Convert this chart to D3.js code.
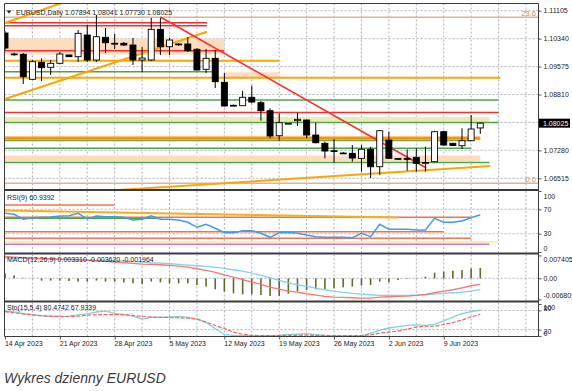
<!DOCTYPE html>
<html>
<head>
<meta charset="utf-8">
<script src="https://d3js.org/d3.v7.min.js"></script>
<style>
body { margin: 0; background: #fff; }
svg { display: block; }
text { font-family: "Liberation Sans", Arial, sans-serif; }
</style>
</head>
<body>
<svg id="chart" width="572" height="391"></svg>
<script>
// ---- data (one bar per day, Sunday bars included) ----
var dateTicks = [0, 6, 12, 18, 24, 30, 36, 42, 48];
var dateLabels = ["14 Apr 2023", "21 Apr 2023", "28 Apr 2023", "5 May 2023", "12 May 2023",
	"19 May 2023", "26 May 2023", "2 Jun 2023", "9 Jun 2023"];

var opens = [1.10494, 1.09919, 1.09911, 1.09226, 1.09692, 1.09555, 1.09664, 1.09892, 1.09845, 1.10439,
	1.09755, 1.10376, 1.10212, 1.10212, 1.10165, 1.09755, 1.09755, 1.10595, 1.10119, 1.10193,
	1.10193, 1.10048, 1.09500, 1.09801, 1.09144, 1.08514, 1.08503, 1.08733, 1.08585, 1.08366,
	1.07681, 1.08021, 1.08092, 1.08111, 1.07700, 1.07473, 1.07270, 1.07207, 1.07199, 1.07062,
	1.07309, 1.06832, 1.07563, 1.07057, 1.07057, 1.07090, 1.06933, 1.06969, 1.07791, 1.07473,
	1.07407, 1.07544, 1.07894];
var highs = [1.10549, 1.09955, 1.09946, 1.09755, 1.09801, 1.09755, 1.09974, 1.09905, 1.10576, 1.10713,
	1.10987, 1.10631, 1.10467, 1.10248, 1.10357, 1.10111, 1.10905, 1.10905, 1.10357, 1.10220,
	1.10385, 1.10083, 1.10056, 1.10028, 1.09399, 1.08536, 1.08914, 1.09051, 1.08632, 1.08432,
	1.08295, 1.08029, 1.08311, 1.08125, 1.08037, 1.07517, 1.07591, 1.07235, 1.07426, 1.07426,
	1.07380, 1.07837, 1.07791, 1.07070, 1.07309, 1.07336, 1.07380, 1.07818, 1.07818, 1.07481,
	1.07884, 1.08248, 1.08041];
var lows = [1.10028, 1.09872, 1.09097, 1.09207, 1.09179, 1.09344, 1.09645, 1.09837, 1.09700, 1.09700,
	1.09700, 1.09946, 1.10056, 1.10138, 1.09618, 1.09426, 1.09727, 1.09892, 1.09892, 1.10138,
	1.09974, 1.09467, 1.09399, 1.08988, 1.08481, 1.08495, 1.08495, 1.08569, 1.08092, 1.07610,
	1.07544, 1.08002, 1.07947, 1.07610, 1.07473, 1.07062, 1.06942, 1.07180, 1.06969, 1.06695,
	1.06523, 1.06605, 1.07043, 1.07029, 1.06723, 1.06695, 1.06695, 1.06953, 1.07407, 1.07399,
	1.07317, 1.07536, 1.07730];
var closes = [1.10083, 1.09911, 1.09297, 1.09708, 1.09544, 1.09664, 1.09919, 1.09845, 1.10486, 1.09755,
	1.10393, 1.10228, 1.10207, 1.10165, 1.09755, 1.09809, 1.10595, 1.10119, 1.10302, 1.10179,
	1.10009, 1.09481, 1.09801, 1.09160, 1.08495, 1.08506, 1.08733, 1.08604, 1.08366, 1.07673,
	1.08037, 1.08013, 1.08130, 1.07700, 1.07489, 1.07262, 1.07254, 1.07194, 1.07070, 1.07309,
	1.06832, 1.07818, 1.07062, 1.07043, 1.07048, 1.06925, 1.06947, 1.07791, 1.07426, 1.07413,
	1.07544, 1.07865, 1.08025];

var priceTicks = [1.11105, 1.10340, 1.09575, 1.08810, 1.07280, 1.06515];
var priceGrid = [1.11105, 1.10340, 1.09575, 1.08810, 1.08045, 1.07280, 1.06515];
var lastPrice = 1.08025;

var rsi = [63.4, 61.8, 53.6, 56.2, 56.9, 57.4, 59.0, 59.5, 63.4, 54.1,
	59.0, 57.9, 57.9, 56.9, 52.5, 53.6, 59.5, 53.6, 53.6, 52.5,
	48.7, 40.5, 45.4, 38.9, 31.6, 31.6, 34.9, 34.9, 30.7, 24.1,
	31.6, 32.0, 30.7, 27.9, 25.1, 24.1, 24.1, 24.1, 23.4, 30.7,
	25.1, 45.4, 37.2, 37.2, 37.2, 36.1, 36.1, 55.2, 48.7, 48.7,
	50.8, 56.2, 60.94];
var rsiTicks = [100, 70, 30, 0];

var macdMain = [0.00707, 0.00686, 0.00664, 0.00654, 0.00643, 0.00632, 0.00621, 0.00610, 0.00600, 0.00578,
	0.00567, 0.00546, 0.00524, 0.00503, 0.00481, 0.00460, 0.00449, 0.00438, 0.00417, 0.00395,
	0.00363, 0.00309, 0.00255, 0.00191, 0.00115, 0.00040, -0.00046, -0.00122, -0.00197, -0.00283,
	-0.00348, -0.00412, -0.00445, -0.00498, -0.00542, -0.00585, -0.00606, -0.00617, -0.00628, -0.00638,
	-0.00638, -0.00606, -0.00595, -0.00585, -0.00574, -0.00552, -0.00520, -0.00466, -0.00412, -0.00369,
	-0.00305, -0.00240, -0.001964];
var macdSignal = [0.00664, 0.00654, 0.00643, 0.00632, 0.00632, 0.00621, 0.00610, 0.00610, 0.00600, 0.00600,
	0.00589, 0.00578, 0.00567, 0.00557, 0.00546, 0.00524, 0.00503, 0.00492, 0.00470, 0.00449,
	0.00427, 0.00406, 0.00384, 0.00363, 0.00320, 0.00277, 0.00234, 0.00169, 0.00094, 0.00018,
	-0.00068, -0.00143, -0.00208, -0.00262, -0.00315, -0.00369, -0.00412, -0.00455, -0.00488, -0.00509,
	-0.00531, -0.00552, -0.00552, -0.00552, -0.00552, -0.00542, -0.00531, -0.00509, -0.00488, -0.00466,
	-0.00445, -0.00412, -0.003620];
var macdHist = [0.00161, 0.00097, 0.00016, 0.00016, -0.00074, -0.00074, -0.00074, -0.00087, -0.00107, -0.00107,
	-0.00074, -0.00107, -0.00107, -0.00129, -0.00161, -0.00184, -0.00107, -0.00129, -0.00161, -0.00161,
	-0.00161, -0.00216, -0.00268, -0.00355, -0.00430, -0.00484, -0.00517, -0.00517, -0.00539, -0.00572,
	-0.00572, -0.00501, -0.00420, -0.00378, -0.00355, -0.00355, -0.00323, -0.00291, -0.00268, -0.00236,
	-0.00216, -0.00107, -0.00129, -0.00055, -0.00016, 0.00016, 0.00055, 0.00184, 0.00216, 0.00249,
	0.00268, 0.00323, 0.00331];
var macdTicks = [0.007405, 0, -0.006809];

var stochK = [78, 75, 70, 67, 63, 61, 61, 62, 66, 69,
	75, 78, 71, 67, 62, 53, 58, 59, 59, 61,
	59, 53, 42, 23.5, 4, 2, 1, 0, 0.5, 1,
	2, 4, 6, 7.6, 4, 1, 0.5, 0.5, 0.5, 1,
	8, 18, 25, 29, 33, 35, 33, 36, 47, 59,
	70, 76, 80.47];
var stochD = [76, 72.6, 69, 66, 63.4, 62.3, 61, 61, 62, 64.6,
	67, 67, 67, 67, 64.6, 61, 59, 58, 58, 56.5,
	55.5, 53, 44, 32.7, 23.5, 12, 5.3, 2, 1, 1,
	2, 2, 2, 3, 2, 2, 1, 1, 1, 1,
	4, 9, 12, 15.5, 21.5, 28, 30.5, 30.5, 36, 42,
	50, 60, 67.93];
var stochTicks = [100, 80, 20, 0];

// drawn objects on the price window: levels (price) and the bar where each one ends
var fibLevels = [1.10924, 1.06378];
var fibLabels = ["23.6", "0.0"];
var redLevels = [1.10776, 1.10694, 1.10009, 1.08317];
var redEnds = [22.1, 22.1, 24, 54];
var orangeLevels = [1.09735, 1.09270];
var orangeEnds = [30, 54.2];
var boldOrangeLevel = 1.07610, boldOrangeEnd = 52;
var greenLevels = [1.09434, 1.08659, 1.08043, 1.07550, 1.07336, 1.06947];
var greenEnds = [23, 54, 54, 51, 51, 53];
var peachBands = [[1.10343, 1.09905], [1.09418, 1.09253], [1.07139, 1.06975]];
var peachSpans = [[0, 24], [24, 30], [0, 52]];
var khakiBand = [1.08193, 1.08065], khakiEnd = 53;
var redTrend = [[17, 1.10932], [46.1, 1.06797]];
var orangeTrends = [
	[[0, 1.08686], [22.1, 1.10530]],
	[[0, 1.10768], [6.7, 1.11360]],
	[[12.4, 1.06194], [53.1, 1.06851]]
];

// drawn objects on the RSI window
var rsiRedLevels = [77, 56.9, 33.3, 22.5];
var rsiRedEnds = [12, 51, 48, 51];
var rsiOrangeTrend = [[0, 68], [43, 56.6]];
var rsiGreenLevel = 55.2, rsiGreenEnd = 17;
var rsiBand = [18, 14.3], rsiBandEnd = 54;
var rsiPurpleLevel = 12.6, rsiPurpleEnd = 53;

// ---- layout ----
var left = 4.5, right = 538.5;
var svg = d3.select("#chart");

var x = d3.scaleLinear().domain([0, 1]).range([5, 14.14]);
var yMain = d3.scaleLinear().domain([1.06515, 1.11105]).range([178.3, 10.7]);
var yRsi = d3.scaleLinear().domain([0, 100]).range([252, 191]);
var yMacd = d3.scaleLinear().domain([-0.006809, 0.007405]).range([299.4, 255.4]);
var ySto = d3.scaleLinear().domain([0, 100]).range([336, 304]);

var panels = [
	{id: "pMain", top: 3.5, bottom: 189},
	{id: "pRsi", top: 191, bottom: 252.5},
	{id: "pMacd", top: 254.5, bottom: 300.5},
	{id: "pSto", top: 302.5, bottom: 336.5}
];

var defs = svg.append("defs");
panels.forEach(function(p) {
	defs.append("clipPath").attr("id", p.id)
		.append("rect")
		.attr("x", left).attr("y", p.top)
		.attr("width", right - left).attr("height", p.bottom - p.top);
});

function hLine(g, y, x1, x2, color, width) {
	return g.append("line")
		.attr("x1", x1).attr("x2", x2)
		.attr("y1", y).attr("y2", y)
		.attr("stroke", color)
		.attr("stroke-width", width);
}

function segment(g, a, b, yScale, color, width) {
	return g.append("line")
		.attr("x1", x(a[0])).attr("y1", yScale(a[1]))
		.attr("x2", x(b[0])).attr("y2", yScale(b[1]))
		.attr("stroke", color)
		.attr("stroke-width", width);
}

function band(g, hi, lo, i1, i2, yScale, color) {
	return g.append("rect")
		.attr("x", x(i1)).attr("width", x(i2) - x(i1))
		.attr("y", yScale(hi)).attr("height", yScale(lo) - yScale(hi))
		.attr("fill", color);
}

function gridGroup(p) {
	var g = svg.append("g").attr("clip-path", "url(#" + p.id + ")");
	d3.range(3, 59, 3).forEach(function(i) {
		g.append("line")
			.attr("x1", x(i)).attr("x2", x(i))
			.attr("y1", p.top).attr("y2", p.bottom)
			.attr("stroke", "#a9aebb")
			.attr("stroke-dasharray", "2,2");
	});
	return g;
}

function dotted(g, y) {
	hLine(g, y, left, right, "#a9aebb", 1).attr("stroke-dasharray", "2,2");
}

var lineGen = function(yScale, arr) {
	return d3.line().x(function(d, i) { return x(i); }).y(function(d) { return yScale(d); })(arr);
};

// ---- main window ----
var gMain = gridGroup(panels[0]);
priceGrid.forEach(function(p) { dotted(gMain, yMain(p)); });

peachBands.forEach(function(b, k) {
	band(gMain, b[0], b[1], peachSpans[k][0], peachSpans[k][1], yMain, "#fddcbf");
});
band(gMain, khakiBand[0], khakiBand[1], 0, khakiEnd, yMain, "#efe9b3");

fibLevels.forEach(function(p) {
	hLine(gMain, yMain(p), left, right, "#dcb394", 1.5);
});
greenLevels.forEach(function(p, k) {
	hLine(gMain, yMain(p), left, x(greenEnds[k]), "#4aa84a", 1.5);
});
redLevels.forEach(function(p, k) {
	hLine(gMain, yMain(p), left, x(redEnds[k]), "#ff2a2a", 1.5);
});
orangeLevels.forEach(function(p, k) {
	hLine(gMain, yMain(p), left, x(orangeEnds[k]), "#ffa500", 2);
});
hLine(gMain, yMain(boldOrangeLevel), left, x(boldOrangeEnd), "#ffb347", 4);
hLine(gMain, yMain(boldOrangeLevel), left, x(boldOrangeEnd), "#ff8c00", 2);
orangeTrends.forEach(function(t) {
	segment(gMain, t[0], t[1], yMain, "#ffa500", 2);
});
segment(gMain, redTrend[0], redTrend[1], yMain, "#ff2a2a", 1.5);

// candles
var bars = d3.range(opens.length);
gMain.selectAll(".wick").data(bars).enter().append("line")
	.attr("x1", function(i) { return x(i); })
	.attr("x2", function(i) { return x(i); })
	.attr("y1", function(i) { return yMain(highs[i]); })
	.attr("y2", function(i) { return yMain(lows[i]); })
	.attr("stroke", "#000")
	.attr("stroke-width", 1);
gMain.selectAll(".body").data(bars).enter().append("rect")
	.attr("x", function(i) { return x(i) - 3; })
	.attr("width", 6)
	.attr("y", function(i) { return yMain(Math.max(opens[i], closes[i])); })
	.attr("height", function(i) {
		return Math.max(0.8, Math.abs(yMain(opens[i]) - yMain(closes[i])));
	})
	.attr("fill", function(i) { return closes[i] >= opens[i] ? "#fff" : "#000"; })
	.attr("stroke", "#000")
	.attr("stroke-width", 0.9);

fibLabels.forEach(function(t, k) {
	svg.append("text")
		.attr("x", 536).attr("y", yMain(fibLevels[k]) - 1)
		.attr("text-anchor", "end")
		.attr("font-size", 7.5)
		.attr("fill", "#c58e66")
		.text(t);
});

svg.append("path").attr("d", "M6.5,10.5 L11.5,10.5 L9,13.5 Z").attr("fill", "#222");
svg.append("text")
	.attr("x", 16).attr("y", 15)
	.attr("font-size", 7)
	.attr("fill", "#222")
	.text("EURUSD,Daily  1.07894  1.08041  1.07730  1.08025");

// ---- RSI window ----
var gRsi = gridGroup(panels[1]);
dotted(gRsi, yRsi(70));
dotted(gRsi, yRsi(30));
band(gRsi, rsiBand[0], rsiBand[1], 0, rsiBandEnd, yRsi, "#f6efb8");
hLine(gRsi, yRsi(rsiPurpleLevel), left, x(rsiPurpleEnd), "#c47ad8", 1.5);
rsiRedLevels.forEach(function(v, k) {
	hLine(gRsi, yRsi(v), left, x(rsiRedEnds[k]), "#f7704f", 1.5);
});
segment(gRsi, rsiOrangeTrend[0], rsiOrangeTrend[1], yRsi, "#ffaa1a", 2);
hLine(gRsi, yRsi(rsiGreenLevel), left, x(rsiGreenEnd), "#4aa84a", 1.2);
gRsi.append("path")
	.attr("d", lineGen(yRsi, rsi))
	.attr("fill", "none")
	.attr("stroke", "#3d9cf2")
	.attr("stroke-width", 1.5);
svg.append("text").attr("x", 7).attr("y", 200)
	.attr("font-size", 7).attr("fill", "#222")
	.text("RSI(9) 60.9392");

// ---- MACD window ----
var gMacd = gridGroup(panels[2]);
dotted(gMacd, yMacd(0));
gMacd.selectAll(".hist").data(bars).enter().append("rect")
	.attr("x", function(i) { return x(i) - 0.8; })
	.attr("width", 1.6)
	.attr("y", function(i) { return Math.min(yMacd(0), yMacd(macdHist[i])); })
	.attr("height", function(i) { return Math.abs(yMacd(macdHist[i]) - yMacd(0)); })
	.attr("fill", "#5d6e2c");
gMacd.append("path")
	.attr("d", lineGen(yMacd, macdSignal))
	.attr("fill", "none").attr("stroke", "#7fd3ec").attr("stroke-width", 1.3);
gMacd.append("path")
	.attr("d", lineGen(yMacd, macdMain))
	.attr("fill", "none").attr("stroke", "#ff7474").attr("stroke-width", 1.3);
svg.append("text").attr("x", 7).attr("y", 262)
	.attr("font-size", 7).attr("fill", "#222")
	.text("MACD(12,26,9) 0.003310 -0.003620 -0.001964");

// ---- Stochastic window ----
var gSto = gridGroup(panels[3]);
dotted(gSto, ySto(80));
dotted(gSto, ySto(20));
gSto.append("path")
	.attr("d", lineGen(ySto, stochK))
	.attr("fill", "none").attr("stroke", "#7ad6d6").attr("stroke-width", 1.3);
gSto.append("path")
	.attr("d", lineGen(ySto, stochD))
	.attr("fill", "none").attr("stroke", "#ff5f5f").attr("stroke-width", 1.2)
	.attr("stroke-dasharray", "4,1.5");
svg.append("text").attr("x", 7).attr("y", 310)
	.attr("font-size", 7).attr("fill", "#222")
	.text("Sto(15,5,4) 80.4742 67.9339");

// ---- frames ----
var frame = svg.append("g").attr("stroke", "#3a3a3a").attr("fill", "none");
frame.append("line").attr("x1", left).attr("x2", right).attr("y1", 3.5).attr("y2", 3.5);
frame.append("line").attr("x1", left).attr("x2", right).attr("y1", 336.5).attr("y2", 336.5);
frame.append("line").attr("x1", left).attr("x2", left).attr("y1", 3.5).attr("y2", 336.5);
frame.append("line").attr("x1", right).attr("x2", right).attr("y1", 3.5).attr("y2", 336.5);
[190, 253.5, 301.5].forEach(function(y) {
	frame.append("line").attr("x1", left).attr("x2", right).attr("y1", y).attr("y2", y)
		.attr("stroke-width", 2.2);
});

// ---- axes ----
function styleAxis(g) {
	g.select(".domain").remove();
	g.selectAll("line").attr("stroke", "#555");
	g.selectAll("text")
		.attr("font-family", "Liberation Sans, Arial, sans-serif")
		.attr("font-size", 7)
		.attr("fill", "#222");
}

var axMain = svg.append("g").attr("transform", "translate(" + right + ",0)")
	.call(d3.axisRight(yMain).tickValues(priceTicks).tickSize(3).tickPadding(2)
		.tickFormat(function(d) { return d.toFixed(5); }));
styleAxis(axMain);

svg.append("rect")
	.attr("x", right + 0.5).attr("y", yMain(lastPrice) - 4.5)
	.attr("width", 31).attr("height", 9)
	.attr("fill", "#000");
svg.append("text")
	.attr("x", right + 4.5).attr("y", yMain(lastPrice) + 2.5)
	.attr("font-size", 7).attr("fill", "#fff")
	.text(lastPrice.toFixed(5));

var axRsi = svg.append("g").attr("transform", "translate(" + right + ",0)")
	.call(d3.axisRight(yRsi).tickValues(rsiTicks).tickSize(3).tickPadding(2));
styleAxis(axRsi);
axRsi.selectAll(".tick text").attr("y", function(d) { return d === 100 ? 5 : (d === 0 ? -4 : 0); });

var axMacd = svg.append("g").attr("transform", "translate(" + right + ",0)")
	.call(d3.axisRight(yMacd).tickValues(macdTicks).tickSize(3).tickPadding(2)
		.tickFormat(function(d) { return d === 0 ? "0.00" : (d < 0 ? "-" : "") + Math.abs(d).toFixed(6); }));
styleAxis(axMacd);
axMacd.selectAll(".tick text").attr("y", function(d) { return d > 0 ? 4 : (d < 0 ? -3.7 : 0); });

var axSto = svg.append("g").attr("transform", "translate(" + right + ",0)")
	.call(d3.axisRight(ySto).tickValues(stochTicks).tickSize(3).tickPadding(2));
styleAxis(axSto);
axSto.selectAll(".tick text").attr("y", function(d) {
	return d === 100 ? 3 : (d === 80 ? -2 : (d === 20 ? 1.5 : -3));
});

var axDate = svg.append("g").attr("transform", "translate(0,336.5)")
	.call(d3.axisBottom(x).tickValues(dateTicks).tickSize(3).tickPadding(2)
		.tickFormat(function(d, k) { return dateLabels[k]; }));
styleAxis(axDate);
axDate.selectAll(".tick text").attr("text-anchor", "start").attr("x", -0.6);

// caption
svg.append("text")
	.attr("x", 4).attr("y", 383)
	.attr("font-family", "Open Sans, Lato, sans-serif")
	.attr("font-style", "italic")
	.attr("font-weight", 300)
	.attr("font-size", 14)
	.attr("fill", "#3a3a3a")
	.text("Wykres dzienny EURUSD");
</script>
</body>
</html>
